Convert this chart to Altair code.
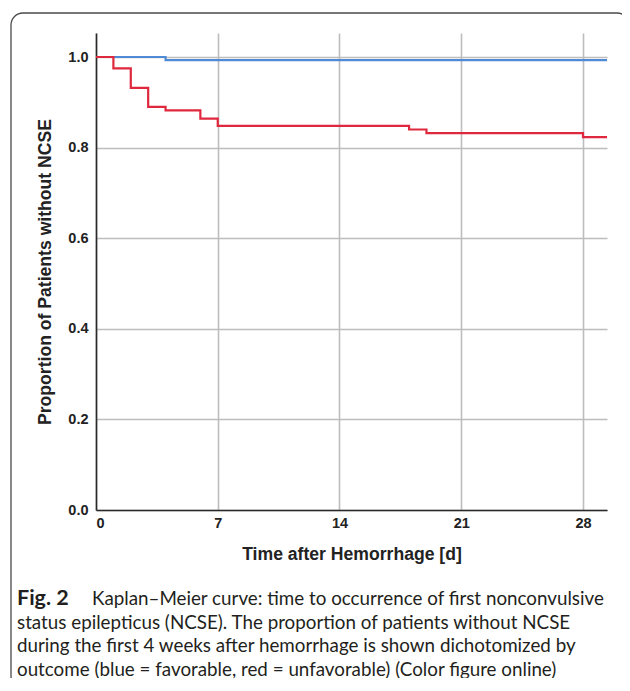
import altair as alt
import pandas as pd

# Kaplan-Meier step data
fav_days = [0, 4, 29.38]
fav_surv = [1.0, 0.993, 0.993]
unfav_days = [0, 1, 2, 3, 4, 6, 7, 18, 19, 28, 29.38]
unfav_surv = [1.0, 0.975, 0.932, 0.890, 0.882, 0.864, 0.848, 0.840, 0.832, 0.823, 0.823]

x_ticks = [0, 7, 14, 21, 28]
y_ticks = [0.0, 0.2, 0.4, 0.6, 0.8, 1.0]

caption_bold = "Fig. 2"
caption_lines = [
    "Kaplan\u2013Meier curve: time to occurrence of first nonconvulsive",
    "status epilepticus (NCSE). The proportion of patients without NCSE",
    "during the first 4 weeks after hemorrhage is shown dichotomized by",
    "outcome (blue = favorable, red = unfavorable) (Color figure online)",
]

df = pd.DataFrame(
    {
        "day": fav_days + unfav_days,
        "surv": fav_surv + unfav_surv,
        "outcome": ["favorable"] * len(fav_days) + ["unfavorable"] * len(unfav_days),
    }
)

W, H = 511, 477
AX_FONT = "Liberation Sans"

lines = (
    alt.Chart(df)
    .mark_line(interpolate="step-after", strokeWidth=2.2, clip=True)
    .encode(
        x=alt.X(
            "day:Q",
            scale=alt.Scale(domain=[0, 29.38], nice=False, zero=True),
            axis=alt.Axis(
                values=x_ticks,
                format="d",
                title="Time after Hemorrhage [d]",
                titleX=W / 2,
                titleY=44,
                titleBaseline="middle",
                titleAlign="center",
                labelPadding=6,
            ),
        ),
        y=alt.Y(
            "surv:Q",
            scale=alt.Scale(domain=[0, 1.053], nice=False),
            axis=alt.Axis(
                values=y_ticks,
                format=".1f",
                title="Proportion of Patients without NCSE",
                titleX=-51,
                titleY=H / 2,
                titleAngle=270,
                titleBaseline="middle",
                titleAlign="center",
                labelPadding=8,
            ),
        ),
        color=alt.Color(
            "outcome:N",
            scale=alt.Scale(domain=["favorable", "unfavorable"], range=["#4f8ad6", "#df283d"]),
            legend=None,
        ),
    )
)

frame = (
    alt.Chart(alt.Data(values=[{}]))
    .mark_rect(filled=False, stroke="#4a4a4a", strokeWidth=1.3, cornerRadius=12)
    .encode(x=alt.value(-85), x2=alt.value(533), y=alt.value(-20), y2=alt.value(655))
)

cap_font = "Lato"
cap_size = 18.8
cap_y0 = 566
cap_dy = 23.5

cap_layers = [
    alt.Chart(alt.Data(values=[{}]))
    .mark_text(font=cap_font, fontSize=21.5, fontWeight="bold", align="left", baseline="middle", color="#231f20")
    .encode(x=alt.value(-79), y=alt.value(cap_y0), text=alt.value(caption_bold)),
    alt.Chart(alt.Data(values=[{}]))
    .mark_text(font=cap_font, fontSize=cap_size, align="left", baseline="middle", color="#231f20")
    .encode(x=alt.value(-4), y=alt.value(cap_y0), text=alt.value(caption_lines[0])),
]
for i, ln in enumerate(caption_lines[1:], start=1):
    cap_layers.append(
        alt.Chart(alt.Data(values=[{}]))
        .mark_text(font=cap_font, fontSize=cap_size, align="left", baseline="middle", color="#231f20")
        .encode(x=alt.value(-79), y=alt.value(cap_y0 + i * cap_dy), text=alt.value(ln))
    )

chart = (
    alt.layer(frame, lines, *cap_layers)
    .properties(
        width=W,
        height=H,
        autosize=alt.AutoSizeParams(type="none"),
        padding={"left": 88, "top": 25, "right": 15, "bottom": 168},
    )
    .configure_view(stroke=None)
    .configure_axis(
        labelFont=AX_FONT,
        titleFont=AX_FONT,
        labelFontSize=14.5,
        labelFontWeight="bold",
        titleFontSize=17.6,
        titleFontWeight="bold",
        labelColor="#222222",
        titleColor="#222222",
        domainColor="#2a2a2a",
        domainWidth=1.6,
        gridColor="#bdbdbd",
        gridWidth=1.6,
        ticks=False,
    )
)

chart.save("out.html", embed_options={"renderer": "svg", "actions": False})
